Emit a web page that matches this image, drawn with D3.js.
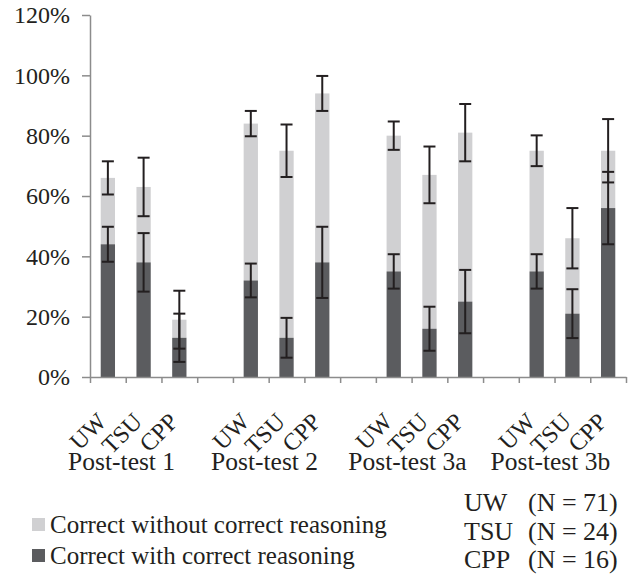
<!DOCTYPE html>
<html>
<head>
<meta charset="utf-8">
<script src="https://cdn.jsdelivr.net/npm/d3@7"></script>
<style>
  body { margin: 0; background: #fff; }
  svg text { font-family: "Liberation Serif", "DejaVu Serif", serif; fill: #231f20; }
  .axis text { font-family: "Liberation Serif", "DejaVu Serif", serif; fill: #231f20; }
  .axis path, .axis line { stroke: #8c8c8c; stroke-width: 1.5; }
  .err { stroke: #231f20; stroke-width: 2; }
</style>
</head>
<body>
<svg id="chart" width="629" height="580"></svg>
<script>
// schools and tests
var schools = ["UW", "TSU", "CPP"];
var schoolN = [71, 24, 16];
var tests = ["Post-test 1", "Post-test 2", "Post-test 3a", "Post-test 3b"];

// % correct (total) per test, per school
var correctTotal = [
    [66, 63, 19],
    [84, 75, 94],
    [80, 67, 81],
    [75, 46, 75]
];
// % correct with correct reasoning
var correctReasoning = [
    [44, 38, 13],
    [32, 13, 38],
    [35, 16, 25],
    [35, 21, 56]
];
// error bars (+/-)
var totalErr = [
    [5.5, 9.7, 9.6],
    [4.2, 8.7, 5.8],
    [4.7, 9.4, 9.5],
    [5.1, 10, 10.5]
];
var reasoningErr = [
    [5.8, 9.7, 8],
    [5.6, 6.6, 11.8],
    [5.7, 7.3, 10.5],
    [5.7, 8.1, 12]
];
var yTicks = [0, 20, 40, 60, 80, 100, 120];
var legendLabels = ["Correct without correct reasoning", "Correct with correct reasoning"];

var light = "#d0d0d2"
    , dark = "#5b5c5f"
    ;

var svg = d3.select("#chart")
    , plotLeft = 90
    , plotRight = 626
    , plotTop = 15
    , plotBottom = 377
    ;

// one slot per bar, plus an empty slot between tests
var slots = [], rows = [];
tests.forEach(function(t, ti) {
    schools.forEach(function(s, si) {
        var key = ti + "-" + s;
        slots.push(key);
        rows.push({
            key: key, test: ti, school: s,
            total: correctTotal[ti][si],
            reason: correctReasoning[ti][si],
            totalErr: totalErr[ti][si],
            reasonErr: reasoningErr[ti][si]
        });
    });
    if (ti < tests.length - 1) slots.push("gap" + ti);
});

var x = d3.scaleBand().domain(slots).range([plotLeft, plotRight]).padding(0);
var xi = d3.scaleLinear().domain([0, slots.length]).range([plotLeft, plotRight]);
var y = d3.scaleLinear().domain([0, 120]).range([plotBottom, plotTop]);

var barW = x.bandwidth() * 0.4
    , capW = 12
    ;

// y axis
svg.append("g")
    .attr("class", "axis axis--y")
    .attr("transform", "translate(" + plotLeft + ",0)")
    .call(d3.axisLeft(y).tickValues(yTicks).tickSize(8).tickSizeOuter(0).tickPadding(12)
        .tickFormat(function(d) { return d + "%"; }))
    .call(function(g) {
        g.selectAll("text").style("font-size", "24px").attr("dy", "0.33em");
    });

var bars = svg.append("g");

bars.selectAll("rect.light")
    .data(rows)
    .enter().append("rect")
    .attr("class", "light")
    .attr("x", function(d) { return x(d.key) + (x.bandwidth() - barW) / 2; })
    .attr("width", barW)
    .attr("y", function(d) { return y(d.total); })
    .attr("height", function(d) { return y(d.reason) - y(d.total); })
    .attr("fill", light);

bars.selectAll("rect.dark")
    .data(rows)
    .enter().append("rect")
    .attr("class", "dark")
    .attr("x", function(d) { return x(d.key) + (x.bandwidth() - barW) / 2; })
    .attr("width", barW)
    .attr("y", function(d) { return y(d.reason); })
    .attr("height", function(d) { return y(0) - y(d.reason); })
    .attr("fill", dark);

// x axis (ticks at slot boundaries)
svg.append("g")
    .attr("class", "axis axis--x")
    .attr("transform", "translate(0," + plotBottom + ")")
    .call(d3.axisBottom(xi).tickValues(d3.range(slots.length + 1)).tickSize(6).tickSizeOuter(0)
        .tickFormat(""));

// error bars
function errBar(g, cx, v, e) {
    g.append("line").attr("class", "err")
        .attr("x1", cx).attr("x2", cx).attr("y1", y(v + e)).attr("y2", y(v - e));
    [v + e, v - e].forEach(function(w) {
        g.append("line").attr("class", "err")
            .attr("x1", cx - capW / 2).attr("x2", cx + capW / 2)
            .attr("y1", y(w)).attr("y2", y(w));
    });
}
var errG = svg.append("g");
rows.forEach(function(d) {
    var cx = x(d.key) + x.bandwidth() / 2;
    errBar(errG, cx, d.total, d.totalErr);
    errBar(errG, cx, d.reason, d.reasonErr);
});

// rotated school labels
svg.append("g").selectAll("text")
    .data(rows)
    .enter().append("text")
    .attr("text-anchor", "end")
    .attr("transform", function(d) {
        return "translate(" + (x(d.key) + x.bandwidth() / 2) + "," + (plotBottom + 46) + ") rotate(-45)";
    })
    .style("font-size", "24px")
    .text(function(d) { return d.school; });

// test labels
svg.append("g").selectAll("text")
    .data(tests)
    .enter().append("text")
    .attr("text-anchor", "middle")
    .attr("x", function(t, ti) {
        return x(ti + "-" + schools[1]) + x.bandwidth() / 2 - 22;
    })
    .attr("y", 470)
    .style("font-size", "25.5px")
    .text(function(t) { return t; });

// legend
var legend = svg.append("g");
[light, dark].forEach(function(c, i) {
    legend.append("rect")
        .attr("x", 32).attr("y", 518 + i * 31)
        .attr("width", 13).attr("height", 13)
        .attr("fill", c);
    legend.append("text")
        .attr("x", 50).attr("y", 533 + i * 31)
        .style("font-size", "25px")
        .text(legendLabels[i]);
});

// sample sizes
schools.forEach(function(s, i) {
    legend.append("text")
        .attr("x", 464).attr("y", 511 + i * 28.5)
        .style("font-size", "26px")
        .text(s);
    legend.append("text")
        .attr("x", 528).attr("y", 511 + i * 28.5)
        .style("font-size", "26px")
        .text("(N = " + schoolN[i] + ")");
});
</script>
</body>
</html>
